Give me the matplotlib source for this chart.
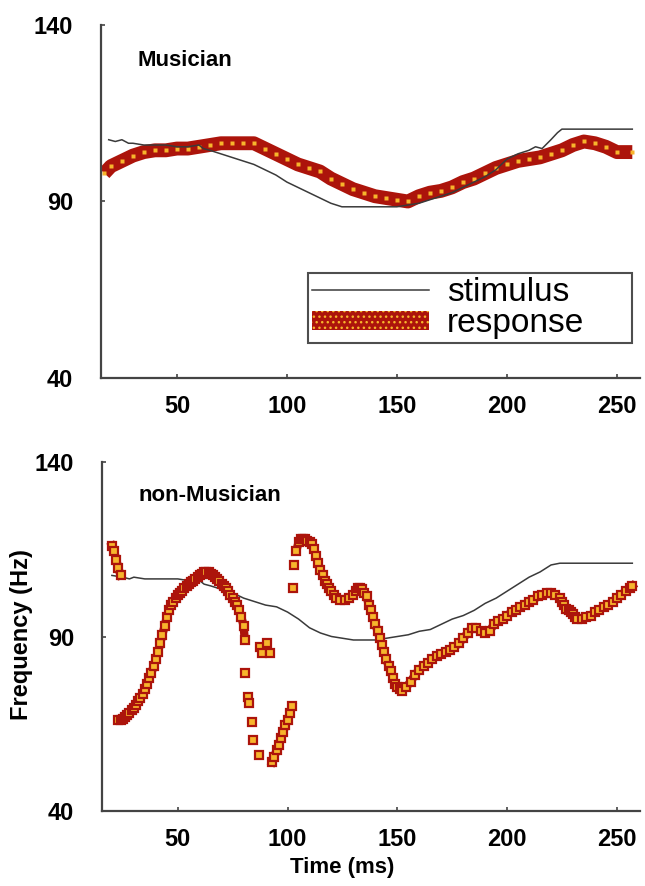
import matplotlib
matplotlib.use("Agg")
import matplotlib.pyplot as plt
from matplotlib.lines import Line2D
from matplotlib.patches import Patch
import numpy as np

plt.rcParams['font.family'] = ['Liberation Sans', 'DejaVu Sans']

# ---------------- data ----------------
x_ticks = [50, 100, 150, 200, 250]
y_ticks = [40, 90, 140]

# Musician panel
stim1_t = [19, 22, 25, 28, 30, 35, 40, 45, 50, 55, 60, 62, 65, 70, 75, 80, 85, 90, 95, 100,
           105, 110, 115, 120, 125, 130, 140, 150, 155, 160, 165, 170, 175, 180, 185, 190,
           195, 200, 205, 210, 213, 216, 220, 223, 225, 240, 257]
stim1_f = [107.5, 107, 107.5, 106.5, 106.5, 106, 106, 106, 105.5, 105.5, 106, 105, 104.5,
           103.5, 102.5, 101.5, 100.5, 99, 97.5, 95.5, 94, 92.5, 91, 89.5, 88.5, 88.5, 88.5,
           88.5, 89, 89.5, 90.5, 91.5, 92.5, 94, 95.5, 97, 99, 102, 103.5, 104.5, 105.5, 105,
           107.5, 109.5, 110.5, 110.5, 110.5]

resp1_t = [17, 20, 25, 30, 35, 40, 45, 50, 55, 60, 65, 70, 75, 80, 85, 90, 95, 100, 105,
           110, 115, 120, 125, 130, 135, 140, 145, 150, 155, 160, 165, 170, 175, 180, 185,
           190, 195, 200, 205, 210, 215, 220, 225, 230, 235, 240, 245, 250, 257]
resp1_f = [98, 100, 101.5, 103, 104, 104.5, 104.5, 105, 105, 105.5, 106, 106.5, 106.5, 106.5,
           106.5, 105, 103.5, 102, 100.5, 99.5, 98.5, 96.5, 95, 93.5, 92.5, 91.5, 91, 90.5,
           90, 91.5, 92.5, 93, 94, 95.5, 96.5, 98, 99.5, 100.5, 101.5, 102, 102.5, 103.5,
           104.5, 106, 107, 106.5, 105.5, 104, 104]

# non-Musician panel
stim2_t = [20, 25, 28, 30, 35, 40, 45, 50, 55, 58, 60, 62, 65, 70, 75, 80, 85, 90, 95, 100,
           105, 110, 115, 120, 125, 130, 140, 145, 150, 155, 160, 165, 170, 175, 180, 185,
           190, 195, 200, 205, 210, 215, 220, 224, 240, 257]
stim2_f = [107.5, 107, 106.5, 107, 106.5, 106.5, 106.5, 106.5, 106, 105.5, 106, 105, 104.5,
           103.5, 102.5, 101, 100, 99, 98.5, 97, 95, 92.5, 91, 90, 89.5, 89, 89, 89.5, 90,
           90.5, 91.5, 92, 93.5, 95, 96, 97.5, 99.5, 101, 103, 105, 107, 108.5, 110.5, 111,
           111, 111]

# response segments (non-Musician)
resp2a_t = [20, 21, 22, 23, 24]
resp2a_f = [116, 114.5, 112, 109.5, 107.5]

resp2b_t = [23, 24, 25, 26, 27, 28, 29, 30, 31, 32, 33, 34, 35, 36, 37, 38, 39, 40, 41, 42,
            43, 44, 45, 46, 47, 48, 49, 50, 51, 52, 53, 54, 55, 56, 57, 58, 59, 60, 61, 62,
            63, 64, 65, 66, 67, 68, 69, 70, 71, 72, 73, 74, 75, 76, 77, 78, 79, 80, 80.5]
resp2b_f = [66, 66, 66.5, 67, 67.5, 68, 69, 69.5, 70.5, 71.5, 72.5, 73.5, 75, 76.5, 78, 79.5,
            81.5, 83.5, 85.5, 88, 90.5, 93, 95.5, 97.5, 99, 100, 101, 102, 102.5, 103, 104,
            104.5, 105, 105.5, 106, 106.5, 107, 107.5, 108, 108.5, 108.5, 108.5, 108, 107.5,
            107, 106.5, 106, 105, 104.5, 104, 103, 102, 101, 100, 99, 97.5, 95.5, 93, 89]

resp2c_t = [80.5, 81.9, 82.3, 83.7, 84.4, 86.9]
resp2c_f = [79.5, 72.7, 71, 65.5, 60.3, 56]

resp2d_t = [87.3, 88.2, 90.5, 91.9]
resp2d_f = [87, 85.3, 88.1, 85.3]

resp2e_t = [93, 94, 95, 96, 97, 98, 99, 100, 101, 102]
resp2e_f = [54, 55.5, 57.5, 59, 61, 62.5, 64.5, 66, 68, 70]

resp2f_t = [102.3, 103]
resp2f_f = [104, 110.5]

resp2g_t = [104, 105, 106, 107, 108, 109, 110, 111, 112, 113, 114, 115, 116, 117, 118, 119,
            120, 121, 122, 124, 126, 128, 130, 131, 132, 133, 134, 135, 136, 137, 138, 139,
            140, 141, 142, 143, 144, 145, 146, 147, 148, 149, 150, 151, 152, 154, 156, 158,
            160, 162, 164, 166, 168, 170, 172, 174, 176, 178, 180, 182, 184, 186, 188, 190,
            192, 194, 196, 198, 200, 202, 204, 206, 208, 210, 212, 214, 216, 218, 220, 222,
            224, 225, 226, 227, 228, 229, 230, 231, 232, 234, 236, 238, 240, 242, 244, 246,
            248, 250, 252, 254, 256, 257]
resp2g_f = [114.5, 117, 118, 118, 118, 117.5, 117, 116.5, 115, 113, 111, 109, 107.5, 106,
            105, 104, 103, 102, 101, 100.5, 100.5, 101, 102, 103, 104, 104, 103.5, 102.5,
            101.5, 99, 97.5, 95.5, 93.5, 91.5, 89.5, 87.5, 85.5, 83.5, 81.5, 80, 78, 76.5,
            75.5, 75, 74.5, 75.5, 77, 79, 80.5, 81.5, 82.5, 83.5, 84.5, 85, 85.5, 86, 87, 88,
            89.5, 91, 92.5, 92.5, 91.5, 91, 91.5, 93.5, 94.5, 95, 96, 97, 97.5, 98.5, 99, 100,
            100.5, 101.5, 102, 102.5, 102.5, 102, 101, 100, 99, 98, 97.5, 97, 96.5, 95.5, 95,
            95, 95.5, 96, 97, 97.5, 98.5, 99, 100, 101, 102, 103, 104, 104.5]

# ---------------- style ----------------
RED = '#ac140b'
YEL = '#f7b52c'
STIM = '#3a3a3a'
XLIM = (15.5, 260.5)
YLIM = (40, 140)

fig = plt.figure(figsize=(6.45, 8.86), dpi=100)
ax1 = fig.add_axes([101/645, 1-378/886, 539/645, 353/886])
ax2 = fig.add_axes([102/645, 1-811/886, 538/645, 349/886])


def style(ax):
    ax.set_xlim(*XLIM)
    ax.set_ylim(*YLIM)
    for s in ['top', 'right']:
        ax.spines[s].set_visible(False)
    for s in ['left', 'bottom']:
        ax.spines[s].set_color('#444444')
        ax.spines[s].set_linewidth(1.6)
    ax.set_xticks(x_ticks)
    ax.set_yticks(y_ticks)
    ax.tick_params(direction='in', length=3, width=1.2, color='#444444')
    ax.tick_params(axis='x', pad=12, labelsize=17)
    ax.tick_params(axis='y', pad=20, labelsize=17)
    for lab in ax.get_xticklabels() + ax.get_yticklabels():
        lab.set_fontweight('bold')


style(ax1)
style(ax2)

# Musician
ax1.plot(stim1_t, stim1_f, color=STIM, lw=1.1, zorder=3)
ax1.plot(resp1_t, resp1_f, color=RED, lw=10, solid_capstyle='butt', zorder=2)
ax1.plot(resp1_t, resp1_f, 's', ms=3.2, mfc=YEL, mec='none', zorder=2.5)
ax1.text(0.067, 0.90, 'Musician', fontsize=16, fontweight='bold', va='center', ha='left',
         transform=ax1.transAxes)

handles = [Line2D([0], [0], color=STIM, lw=1.1),
           Patch(facecolor=RED, edgecolor=YEL, hatch='...', lw=0)]
leg = ax1.legend(handles, ['stimulus', 'response'], loc='lower left',
                 bbox_to_anchor=(0.384, 0.099, 0.601, 0.207), mode='expand',
                 fontsize=24, frameon=True, fancybox=False, handlelength=3.5,
                 handleheight=0.5, handletextpad=0.55, borderpad=0.12, labelspacing=0.0,
                 borderaxespad=0)
leg.get_frame().set_edgecolor('#222222')
leg.get_frame().set_linewidth(1.5)

# non-Musician
ax2.plot(stim2_t, stim2_f, color=STIM, lw=1.1, zorder=3)
mk = dict(marker='s', ms=6.3, mfc=YEL, mec=RED, mew=1.6, zorder=4)
for t, f, conn in [(resp2a_t, resp2a_f, True), (resp2b_t, resp2b_f, True),
                   (resp2c_t, resp2c_f, False), (resp2d_t, resp2d_f, False),
                   (resp2e_t, resp2e_f, True), (resp2f_t, resp2f_f, False),
                   (resp2g_t, resp2g_f, True)]:
    if conn:
        ax2.plot(t, f, color=RED, lw=6, zorder=3.5)
    ax2.plot(t, f, ls='none', **mk)
ax2.text(0.067, 0.905, 'non-Musician', fontsize=16, fontweight='bold', va='center', ha='left',
         transform=ax2.transAxes)

fig.text(22/645, 1-635/886, 'Frequency (Hz)', rotation=90, fontsize=17, fontweight='bold',
         ha='center', va='center')
fig.text(342/645, 1-868/886, 'Time (ms)', fontsize=16, fontweight='bold',
         ha='center', va='center')

fig.savefig('out.png', dpi=100)
